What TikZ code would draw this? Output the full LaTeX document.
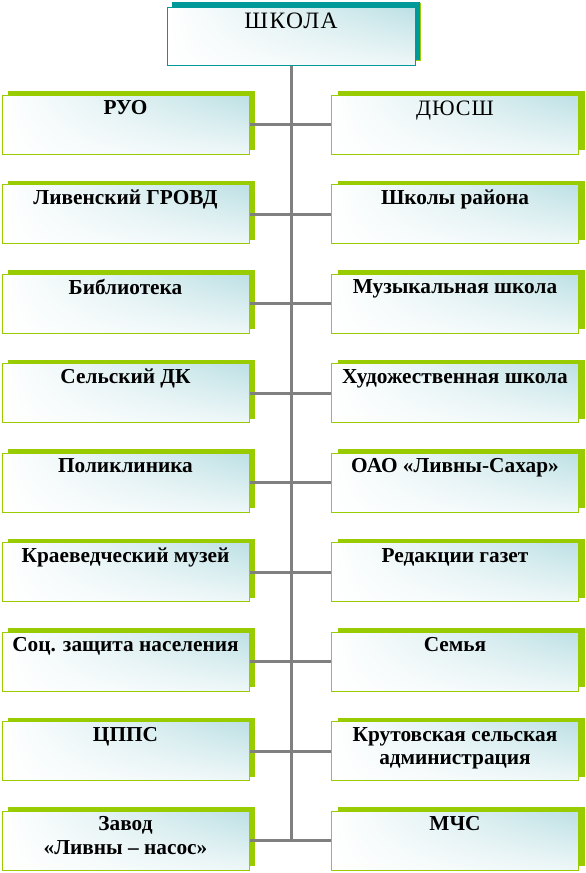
\documentclass[tikz,border=0pt]{standalone}
\usepackage{fontspec}
\setmainfont{Liberation Serif}
\newfontfamily\wideserif[LetterSpace=5]{Liberation Serif}
\newfontfamily\widerserif[LetterSpace=6]{Liberation Serif}
\usetikzlibrary{shadows,shadings}
\definecolor{boxgreen}{RGB}{153,204,0}
\definecolor{boxteal}{RGB}{0,153,153}
\definecolor{lightteal}{RGB}{188,224,228}
\definecolor{paleteal}{RGB}{238,247,248}
\definecolor{linegray}{RGB}{128,128,128}
\tikzset{
  box/.style={rectangle, draw=boxgreen, line width=1pt, minimum width=247pt, minimum height=59pt,
    inner sep=0pt, upper left=white, lower left=white, upper right=lightteal, lower right=paleteal,
    drop shadow={shadow xshift=6pt, shadow yshift=4pt, fill=boxgreen, opacity=1}},
  topbox/.style={box, draw=boxteal, minimum width=248pt, minimum height=58pt,
    drop shadow={shadow xshift=5pt, shadow yshift=5pt, fill=boxteal, opacity=1}},
  lbl/.style={anchor=north, inner sep=0pt, align=center, font=\fontsize{21.3}{23.5}\selectfont\bfseries},
  lblr/.style={lbl, font=\fontsize{22}{23.5}\selectfont\wideserif},
  conn/.style={draw=linegray, line width=3pt}
}
\begin{document}
\begin{tikzpicture}[x=1pt,y=-1pt]
\useasboundingbox (0,0) rectangle (586,873);
\node[topbox] (top) at (291,36) {};
\node[lblr, font=\fontsize{23.5}{24}\selectfont\widerserif] (ttop) at ([yshift=-6pt]top.north) {ШКОЛА};
% left column
\foreach \i/\name/\txt in {
  1/l1/{РУО},
  2/l2/{Ливенский ГРОВД},
  3/l3/{Библиотека},
  4/l4/{Сельский ДК},
  5/l5/{Поликлиника},
  6/l6/{Краеведческий музей},
  7/l7/{Соц. защита населения},
  8/l8/{ЦППС},
  9/l9/{Завод\\«Ливны – насос»}}{
  \node[box] (\name) at (125.5,{124.5+89.5*(\i-1)}) {};
  \node[lbl] (t\name) at ([yshift=-6pt]\name.north) {\txt};
}
% right column
\foreach \i/\name/\txt in {
  2/r2/{Школы района},
  3/r3/{Музыкальная школа},
  4/r4/{Художественная школа},
  5/r5/{ОАО «Ливны-Сахар»},
  6/r6/{Редакции газет},
  7/r7/{Семья},
  8/r8/{Крутовская сельская\\администрация},
  9/r9/{МЧС}}{
  \node[box] (\name) at (455,{124.5+89.5*(\i-1)}) {};
  \node[lbl] (t\name) at ([yshift=-6pt]\name.north) {\txt};
}
\node[box] (r1) at (455,124.5) {};
\node[lblr] (tr1) at ([yshift=-6pt]r1.north) {ДЮСШ};
% connectors
\draw[conn] (top.south) -- (top.south |- l9.east);
\foreach \k in {1,...,9}{
  \draw[conn] (l\k.east) -- (r\k.west);
}
\end{tikzpicture}
\end{document}
